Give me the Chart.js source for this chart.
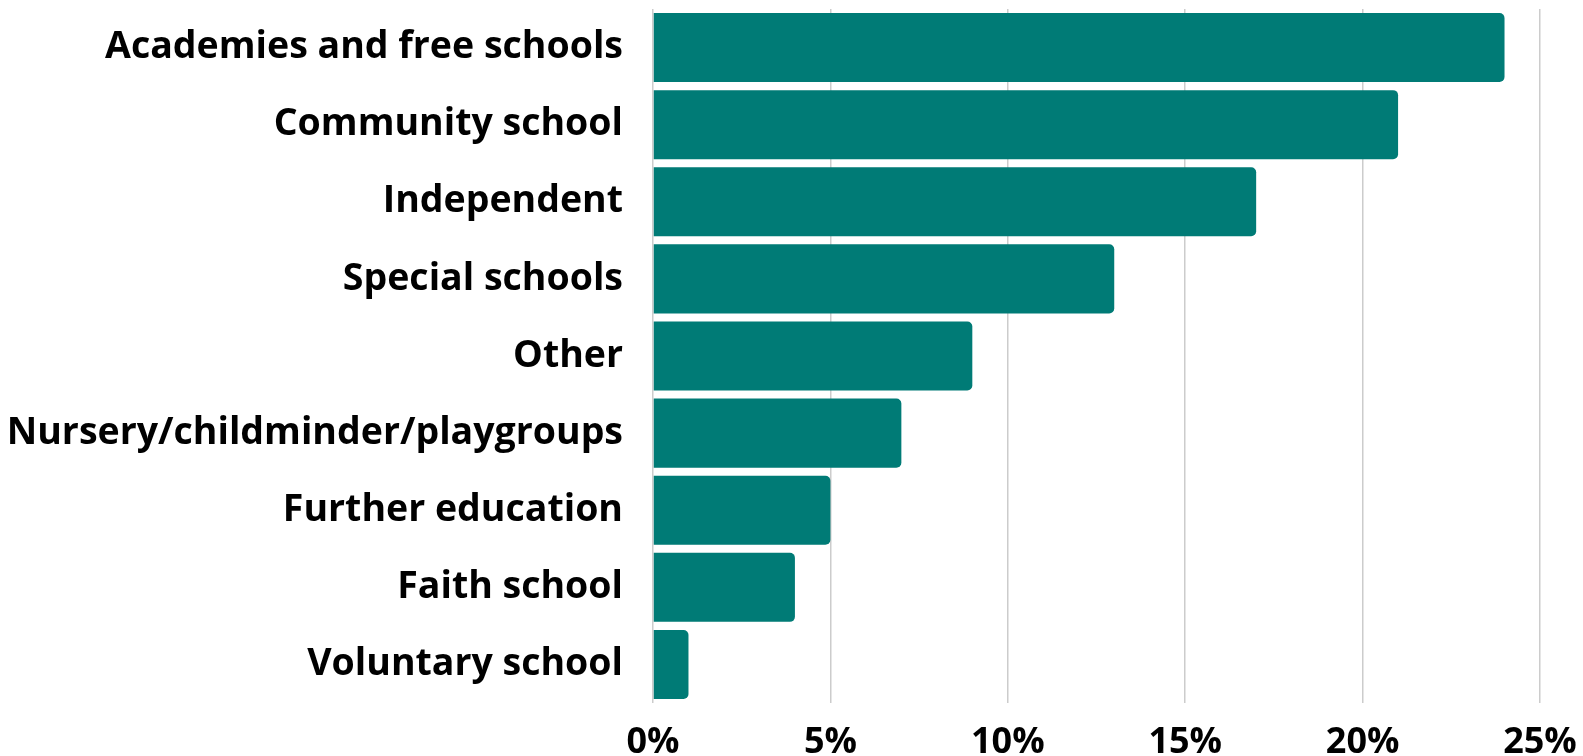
<!DOCTYPE html>
<html>
<head>
<meta charset="utf-8">
<script src="https://cdn.jsdelivr.net/npm/chart.js@4/dist/chart.umd.min.js"></script>
<style>
  html, body { margin: 0; padding: 0; background: #fff; }
  #wrap { width: 1583px; height: 756px; }
</style>
</head>
<body>
<div id="wrap"><canvas id="schoolChart"></canvas></div>
<script>
const categories = [
  "Academies and free schools",
  "Community school",
  "Independent",
  "Special schools",
  "Other",
  "Nursery/childminder/playgroups",
  "Further education",
  "Faith school",
  "Voluntary school"
];
const percentages = [24, 21, 17, 13, 9, 7, 5, 4, 1];
const tickStep = 5;
const axisMax = 25;

const ctx = document.getElementById("schoolChart").getContext("2d");
new Chart(ctx, {
  type: "bar",
  data: {
    labels: categories,
    datasets: [
      {
        data: percentages,
        backgroundColor: "#007b76",
        borderRadius: 5,
        borderSkipped: "start",
        barPercentage: 0.9,
        categoryPercentage: 0.995,
      },
    ],
  },
  options: {
    indexAxis: "y",
    responsive: true,
    maintainAspectRatio: false,
    animation: false,
    layout: { padding: { top: 9, right: 43, left: 0, bottom: 0 } },
    plugins: { legend: { display: false }, tooltip: { enabled: false } },
    scales: {
      x: {
        min: 0,
        max: axisMax,
        ticks: {
          stepSize: tickStep,
          callback: (v) => v + "%",
          color: "#000",
          padding: 18,
          font: { family: "'Open Sans'", weight: "bold", size: 36 },
        },
        grid: { color: "#cccccc", lineWidth: 1.5, drawTicks: false },
        border: { display: false },
        afterFit: (scale) => {
          scale.height = 53;
          scale.paddingLeft = 0;
          scale.paddingRight = 0;
        },
      },
      y: {
        ticks: {
          color: "#000",
          padding: 30,
          font: { family: "'Open Sans'", weight: "bold", size: 37.5 },
        },
        grid: { display: false, drawTicks: false },
        border: { display: false },
        afterFit: (scale) => {
          scale.width = 653;
          scale.paddingTop = 0;
          scale.paddingBottom = 0;
        },
      },
    },
  },
});
</script>
</body>
</html>
